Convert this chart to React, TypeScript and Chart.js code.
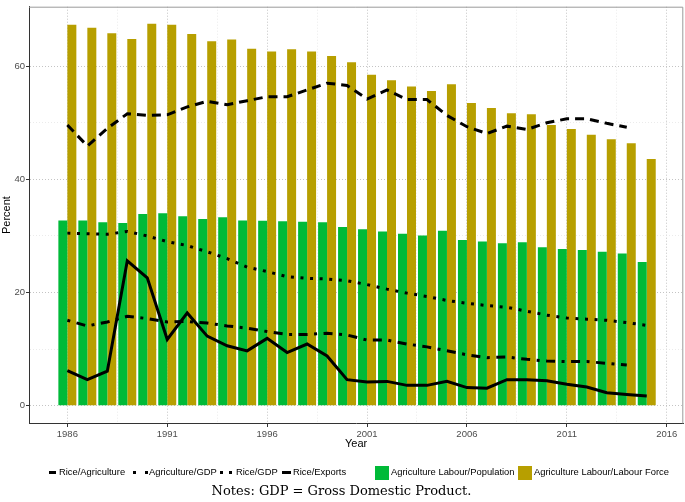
import React, { useEffect, useRef } from "react";
import { Chart, registerables } from "chart.js";

Chart.register(...registerables);

const years = [1986, 1987, 1988, 1989, 1990, 1991, 1992, 1993, 1994, 1995, 1996, 1997, 1998, 1999, 2000, 2001, 2002, 2003, 2004, 2005, 2006, 2007, 2008, 2009, 2010, 2011, 2012, 2013, 2014, 2015];
const labourForce = [67.3, 66.8, 65.8, 64.8, 67.5, 67.3, 65.7, 64.4, 64.7, 63.1, 62.6, 63.0, 62.6, 61.8, 60.7, 58.5, 57.5, 56.4, 55.6, 56.8, 53.5, 52.6, 51.7, 51.5, 49.6, 48.9, 47.9, 47.1, 46.4, 43.6];
const labourPopulation = [32.75, 32.75, 32.4, 32.3, 33.9, 34.0, 33.5, 33.0, 33.3, 32.75, 32.7, 32.6, 32.5, 32.4, 31.6, 31.2, 30.8, 30.4, 30.1, 30.9, 29.3, 29.0, 28.7, 28.9, 28.0, 27.7, 27.5, 27.2, 26.9, 25.4];
const riceAgriculture = [49.6, 45.9, 49.0, 51.6, 51.3, 51.4, 52.8, 53.8, 53.2, 53.9, 54.6, 54.6, 55.8, 57.0, 56.6, 54.2, 55.8, 54.1, 54.1, 51.3, 49.3, 48.1, 49.4, 48.8, 50.0, 50.7, 50.7, 49.9, 49.2];
const agricultureGDP = [30.5, 30.4, 30.3, 30.8, 30.0, 29.0, 28.3, 27.2, 26.0, 24.5, 23.7, 22.8, 22.5, 22.4, 22.1, 21.4, 20.6, 19.9, 19.3, 18.6, 18.1, 17.7, 17.4, 16.7, 16.0, 15.5, 15.3, 15.1, 14.7, 14.2];
const riceGDP = [15.1, 14.1, 14.8, 15.8, 15.4, 14.8, 14.9, 14.6, 14.1, 13.7, 13.1, 12.6, 12.6, 12.8, 12.5, 11.6, 11.6, 10.9, 10.4, 9.7, 9.0, 8.5, 8.6, 8.2, 7.9, 7.8, 7.8, 7.5, 7.2];
const riceExports = [6.2, 4.6, 6.1, 25.6, 22.6, 11.7, 16.4, 12.3, 10.6, 9.7, 11.9, 9.4, 10.9, 8.8, 4.6, 4.2, 4.3, 3.6, 3.6, 4.3, 3.2, 3.1, 4.6, 4.6, 4.4, 3.8, 3.3, 2.3, 2.0, 1.7];

const xMajorTicks = [1986, 1991, 1996, 2001, 2006, 2011, 2016];
const xMinorTicks = [1988.5, 1993.5, 1998.5, 2003.5, 2008.5, 2013.5];
const yMajorTicks = [0, 20, 40, 60];
const yMinorTicks = [10, 30, 50];

const GREEN = "#00BA38";
const GOLD = "#B79F00";

const toPoints = (vals: number[]) => vals.map((v, i) => ({ x: years[i], y: v }));

const panelBorder = {
  id: "panelBorder",
  afterDraw(chart: any) {
    const { ctx, chartArea } = chart;
    ctx.save();
    ctx.strokeStyle = "#9a9a9a";
    ctx.lineWidth = 1;
    ctx.beginPath();
    ctx.moveTo(chartArea.left, chartArea.top + 0.5);
    ctx.lineTo(chartArea.right - 0.5, chartArea.top + 0.5);
    ctx.lineTo(chartArea.right - 0.5, chartArea.bottom);
    ctx.stroke();
    ctx.restore();
  },
};

const legendText: React.CSSProperties = {
  position: "absolute",
  fontFamily: "'Liberation Sans', Arial, sans-serif",
  fontSize: 9.4,
  color: "#000",
  lineHeight: "12px",
  top: 466,
  whiteSpace: "nowrap",
};

const sq = (left: number): React.CSSProperties => ({
  position: "absolute",
  left,
  top: 470.5,
  width: 3,
  height: 3,
  background: "#000",
});

const bar = (left: number, width: number): React.CSSProperties => ({
  position: "absolute",
  left,
  top: 470.5,
  width,
  height: 3,
  background: "#000",
});

export default function App() {
  const ref = useRef<HTMLCanvasElement | null>(null);

  useEffect(() => {
    if (!ref.current) return;
    const isMajorX = (v: number) => xMajorTicks.includes(v);
    const isMajorY = (v: number) => yMajorTicks.includes(v);
    const chart = new Chart(ref.current, {
      type: "bar",
      data: {
        datasets: [
          {
            type: "line",
            label: "Rice/Agriculture",
            data: toPoints(riceAgriculture),
            borderColor: "#000",
            borderWidth: 3,
            borderDash: [9, 6],
            pointRadius: 0,
            fill: false,
            tension: 0,
          } as any,
          {
            type: "line",
            label: "Agriculture/GDP",
            data: toPoints(agricultureGDP),
            borderColor: "#000",
            borderWidth: 3,
            borderDash: [3, 6.6],
            pointRadius: 0,
            fill: false,
            tension: 0,
          },
          {
            type: "line",
            label: "Rice/GDP",
            data: toPoints(riceGDP),
            borderColor: "#000",
            borderWidth: 3,
            borderDash: [3, 6.5, 9, 6.5],
            pointRadius: 0,
            fill: false,
            tension: 0,
          },
          {
            type: "line",
            label: "Rice/Exports",
            data: toPoints(riceExports),
            borderColor: "#000",
            borderWidth: 3,
            pointRadius: 0,
            fill: false,
            tension: 0,
          },
          {
            type: "bar",
            label: "Agriculture Labour/Population",
            data: toPoints(labourPopulation),
            backgroundColor: GREEN,
            borderWidth: 0,
            categoryPercentage: 0.9,
            barPercentage: 1.0,
          },
          {
            type: "bar",
            label: "Agriculture Labour/Labour Force",
            data: toPoints(labourForce),
            backgroundColor: GOLD,
            borderWidth: 0,
            categoryPercentage: 0.9,
            barPercentage: 1.0,
          },
        ] as any,
      },
      options: {
        animation: false,
        responsive: false,
        devicePixelRatio: 1,
        layout: { padding: { left: 0, top: 1, right: 1.7, bottom: 46.5 } },
        plugins: {
          legend: { display: false },
          tooltip: { enabled: false },
        },
        scales: {
          x: {
            type: "linear",
            min: 1984.08,
            max: 2016.83,
            offset: false,
            afterBuildTicks: (axis: any) => {
              axis.ticks = [...xMajorTicks, ...xMinorTicks]
                .sort((a, b) => a - b)
                .map((v) => ({ value: v }));
            },
            afterFit: (axis: any) => {
              axis.height = 32;
            },
            ticks: {
              autoSkip: false,
              maxRotation: 0,
              padding: 2,
              color: "#4D4D4D",
              font: { size: 9.5, family: "'Liberation Sans', Arial, sans-serif" },
              callback: (v: any) => (isMajorX(Number(v)) ? String(v) : ""),
            },
            grid: {
              offset: false,
              tickLength: 3.5,
              color: (ctx: any) => (isMajorX(ctx.tick?.value) ? "#C4C4C4" : "#E2E2E2"),
              lineWidth: (ctx: any) => (isMajorX(ctx.tick?.value) ? 1 : 0.7),
              tickColor: (ctx: any) => (isMajorX(ctx.tick?.value) ? "#333333" : "rgba(0,0,0,0)"),
              tickWidth: 1,
              tickBorderDash: [],
            },
            border: { display: true, color: "#333333", width: 1, dash: [1, 2] },
            title: {
              display: true,
              text: "Year",
              color: "#000",
              font: { size: 11, family: "'Liberation Sans', Arial, sans-serif" },
              padding: { top: 0, bottom: 5 },
            },
          },
          y: {
            type: "linear",
            min: -3.14,
            max: 70.51,
            afterBuildTicks: (axis: any) => {
              axis.ticks = [...yMajorTicks, ...yMinorTicks]
                .sort((a, b) => a - b)
                .map((v) => ({ value: v }));
            },
            afterFit: (axis: any) => {
              axis.width = 29;
            },
            ticks: {
              autoSkip: false,
              padding: 1,
              color: "#4D4D4D",
              font: { size: 9.5, family: "'Liberation Sans', Arial, sans-serif" },
              callback: (v: any) => (isMajorY(Number(v)) ? String(v) : ""),
            },
            grid: {
              tickLength: 3,
              color: (ctx: any) => (isMajorY(ctx.tick?.value) ? "#C4C4C4" : "#E2E2E2"),
              lineWidth: (ctx: any) => (isMajorY(ctx.tick?.value) ? 1 : 0.7),
              tickColor: (ctx: any) => (isMajorY(ctx.tick?.value) ? "#333333" : "rgba(0,0,0,0)"),
              tickWidth: 1,
              tickBorderDash: [],
            },
            border: { display: true, color: "#333333", width: 1, dash: [1, 2] },
            title: {
              display: true,
              text: "Percent",
              color: "#000",
              font: { size: 11, family: "'Liberation Sans', Arial, sans-serif" },
              padding: { top: 0, bottom: 0 },
            },
          },
        },
      },
      plugins: [panelBorder],
    } as any);
    return () => chart.destroy();
  }, []);

  return (
    <div style={{ position: "absolute", left: 0, top: 0, width: 685, height: 502, background: "#fff" }}>
      <canvas ref={ref} width={685} height={502} style={{ position: "absolute", left: 0, top: 0, width: 685, height: 502 }} />
      <div style={bar(49, 7)} />
      <span style={{ ...legendText, left: 59 }}>Rice/Agriculture</span>
      <div style={sq(133)} />
      <div style={sq(144.5)} />
      <span style={{ ...legendText, left: 149 }}>Agriculture/GDP</span>
      <div style={sq(220)} />
      <div style={sq(229)} />
      <span style={{ ...legendText, left: 236 }}>Rice/GDP</span>
      <div style={bar(282, 8.5)} />
      <span style={{ ...legendText, left: 293 }}>Rice/Exports</span>
      <div style={{ position: "absolute", left: 375, top: 466, width: 14, height: 14, background: GREEN }} />
      <span style={{ ...legendText, left: 391 }}>Agriculture Labour/Population</span>
      <div style={{ position: "absolute", left: 518, top: 466, width: 14, height: 14, background: GOLD }} />
      <span style={{ ...legendText, left: 534 }}>Agriculture Labour/Labour Force</span>
      <div
        style={{
          position: "absolute",
          left: 0,
          width: 683,
          top: 482,
          textAlign: "center",
          fontFamily: "'DejaVu Serif', 'Liberation Serif', serif",
          fontSize: 13,
          lineHeight: "18px",
          color: "#000",
          whiteSpace: "nowrap",
        }}
      >
        Notes: GDP = Gross Domestic Product.
      </div>
    </div>
  );
}
